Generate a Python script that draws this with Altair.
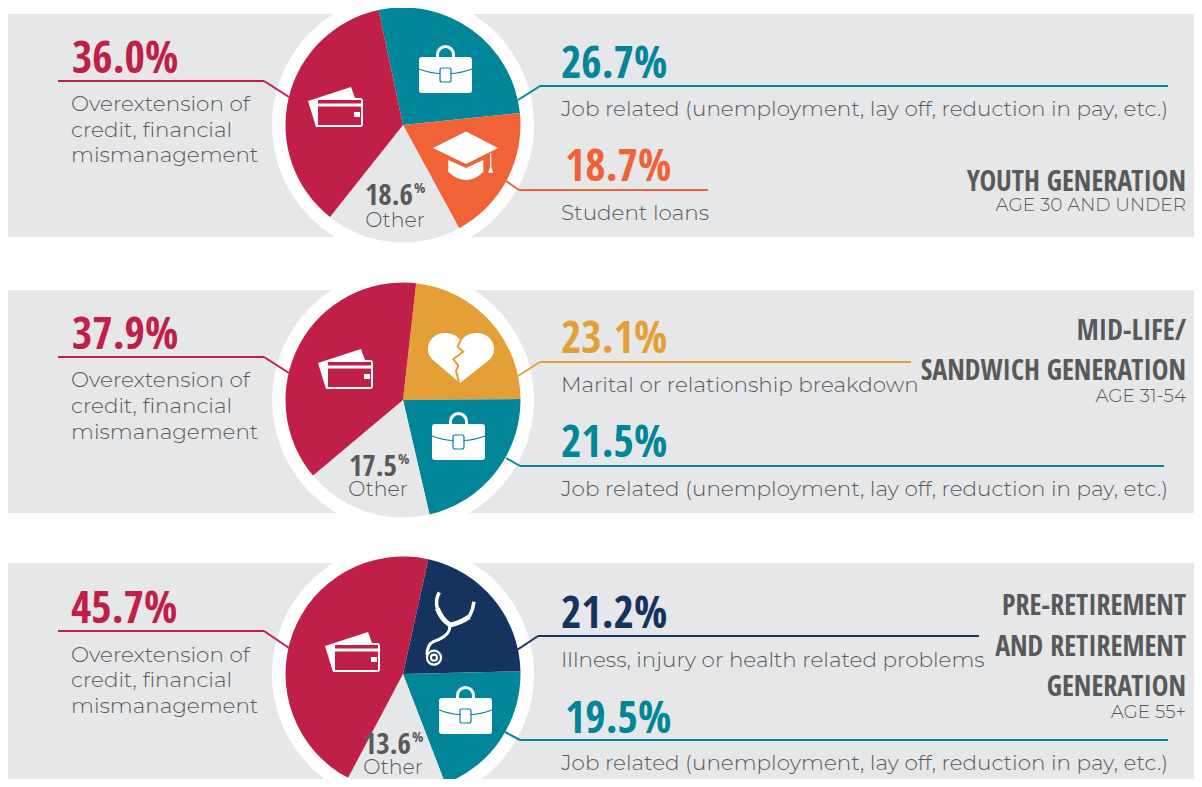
import math
import altair as alt

# ---- chart values -------------------------------------------------------
CATEGORIES = ["credit", "job", "student", "other", "marital", "health"]
CATEGORY_COLORS = ["#c01f48", "#008599", "#f06336", "#e6e7e8", "#e49f37", "#14345f"]

PIE1_CATS = ["job", "student", "other", "credit"]
PIE1_VALUES = [26.7, 18.7, 18.6, 36.0]
PIE2_CATS = ["marital", "job", "other", "credit"]
PIE2_VALUES = [23.1, 21.5, 17.5, 37.9]
PIE3_CATS = ["health", "job", "other", "credit"]
PIE3_VALUES = [21.2, 19.5, 13.6, 45.7]

CREDIT_LINES = ["Overextension of", "credit, financial", "mismanagement"]
JOB_TEXT = "Job related (unemployment, lay off, reduction in pay, etc.)"

TEXT = "#58595b"
PANEL = "#e6e7e8"
BIG = "Open Sans Condensed"
BODY = "Montserrat"
BODY_SIZE = 21.5
W = 1186
H = 771

layers = []
ROW = alt.Data(values=[{"k": 1}])


def panel(y1, y2):
    layers.append(alt.Chart(ROW).mark_rect(color=PANEL).encode(
        x=alt.value(0), x2=alt.value(W), y=alt.value(y1 - 8), y2=alt.value(min(y2 - 8, H))))


def ring(cx, cy):
    d = alt.Data(values=[{"v": 1}])
    layers.append(alt.Chart(d).mark_arc(color="white", outerRadius=131).encode(
        theta=alt.Theta("v:Q", stack=True, scale=alt.Scale(domain=[0, 1], range=[0, 2 * math.pi])),
        x=alt.value(cx - 8), y=alt.value(cy - 8)))


def leader(color, x0, x1, y, x2, y2):
    for a, b, c, d in [(x0, x1, y, y), (x1, x2, y, y2)]:
        layers.append(alt.Chart(ROW).mark_rule(color=color, strokeWidth=2).encode(
            x=alt.value(a - 8), x2=alt.value(b - 8), y=alt.value(c - 8), y2=alt.value(d - 8)))


def pie(cats, values, start_deg, cx, cy, r=117.5):
    rows = [{"cat": c, "value": v, "i": i} for i, (c, v) in enumerate(zip(cats, values))]
    a = math.radians(start_deg)
    return alt.Chart(alt.Data(values=rows)).mark_arc(outerRadius=r).encode(
        theta=alt.Theta("value:Q", stack=True,
                        scale=alt.Scale(domain=[0, 100], range=[a, a + 2 * math.pi])),
        order=alt.Order("i:Q"),
        color=alt.Color("cat:N", scale=alt.Scale(domain=CATEGORIES, range=CATEGORY_COLORS), legend=None),
        x=alt.value(cx - 8), y=alt.value(cy - 8))


def fill_icon(path, x, y, color="white"):
    layers.append(alt.Chart(ROW).mark_point(shape=path, size=4, filled=True, color=color,
                                            opacity=1, strokeWidth=0).encode(
        x=alt.value(x - 8), y=alt.value(y - 8)))


def stroke_icon(path, x, y, color="white", w=2.0):
    layers.append(alt.Chart(ROW).mark_point(shape=path, size=4, filled=False, color=color,
                                            opacity=1, strokeWidth=w).encode(
        x=alt.value(x - 8), y=alt.value(y - 8)))


def text(s, x, y, size, color=TEXT, font=BODY, align="left", weight=300):
    layers.append(alt.Chart(alt.Data(values=[{"t": s}])).mark_text(
        font=font, fontSize=size, color=color, align=align, baseline="alphabetic",
        fontWeight=weight).encode(text="t:N", x=alt.value(x - 8), y=alt.value(y - 8)))


CARD = ("M-28,-6 L15,-20 L19,-9 L-18,-9 L-18,20 L-20,20 Z "
        "M-18,-9 L24,-9 Q27,-9 27,-6 L27,17 Q27,20 24,20 L-18,20 Q-20,20 -20,17 L-20,-6 Q-20,-9 -18,-9 Z "
        "M-18,-7 L-18,-3.5 L25,-3.5 L25,-7 Z "
        "M-18,-0.5 L-18,18 L25,18 L25,-0.5 Z "
        "M18,5 L24,5 L24,10 L18,10 Z")
CASE_BODY = "M-23.5,-18 L23.5,-18 Q26.5,-18 26.5,-15 L26.5,15 Q26.5,18 23.5,18 L-23.5,18 Q-26.5,18 -26.5,15 L-26.5,-15 Q-26.5,-18 -23.5,-18 Z"
CASE_HANDLE = "M-8,-17 L-8,-20.5 A8,8 0 0 1 8,-20.5 L8,-17"
CASE_STRAP = "M-26.5,-6 Q-14,-1.5 -5,-1.5 M5,-1.5 Q14,-1.5 26.5,-6"
CASE_CLASP = "M-3.5,-7 L3.5,-7 Q5.5,-7 5.5,-5 L5.5,5 Q5.5,7 3.5,7 L-3.5,7 Q-5.5,7 -5.5,5 L-5.5,-5 Q-5.5,-7 -3.5,-7 Z"
CAP_TOP = "M-33,0 L-1,-16 Q0,-16.5 1,-16 L32,0 L1,15.5 Q0,16 -1,15.5 Z"
CAP_BASE = "M-17.7,12 L0,20 L17.3,12 L17.3,24 Q0,40 -17.7,24 Z"
CAP_TASSEL = "M24.1,5.3 L25.3,5.3 L25.3,18.7 L27.2,24.7 L22.2,24.7 L24.1,18.7 Z"
HEART = ("M0,-16 C-4,-22 -10,-24 -16,-24 C-26,-24 -33,-17 -33,-8 C-33,-3 -31,0 -28,3 L-1,26 L28,3 "
         "C31,0 33,-3 33,-8 C33,-17 26,-24 16,-24 C10,-24 4,-22 0,-16 Z")
CRACK = "M-0.3,-17 L-3.3,-10.3 L2.3,-5.3 L-7.7,2.3 L-2.7,8.7 L-5,13.7 L-2,25.3"
STETH_YOKE = "M-12.7,-16.7 Q-9,-6 0,0 Q10,-2 19.3,-8.3"
STETH_EARS = "M-10.7,-32.7 Q-15,-25 -12.7,-16.7 M24,-23.3 Q23,-15 19.3,-8.3"
STETH_TUBE = "M0,0 L-0.7,5 Q-3,12 -16.7,16.7 Q-23,20 -23,30"
STETH_RING = ("M-23,32.7 A7,7 0 1 1 -9,32.7 A7,7 0 1 1 -23,32.7 Z "
              "M-19,32.7 A3,3 0 1 1 -13,32.7 A3,3 0 1 1 -19,32.7 Z")


def card(x, y):
    fill_icon(CARD, x, y)


def briefcase(x, y, bg="#008599"):
    stroke_icon(CASE_HANDLE, x, y, "white", 3)
    fill_icon(CASE_BODY, x, y)
    stroke_icon(CASE_STRAP, x, y, bg, 1.2)
    stroke_icon(CASE_CLASP, x, y, bg, 1.2)


# ---- panels, rings, leaders --------------------------------------------
panel(14, 237)
panel(290, 513)
panel(563, 787)
for cy in (125, 400, 674):
    ring(403, cy)

leader("#c01f48", 58, 264, 81, 289, 97)
leader("#008599", 1168, 540, 86, 518, 100)
leader("#f06336", 708, 519, 190, 506, 181)
leader("#c01f48", 58, 264, 357, 289, 373)
leader("#e49f37", 911, 540, 362, 518, 376)
leader("#008599", 1164, 520, 466, 506, 458)
leader("#c01f48", 58, 264, 631, 289, 648)
leader("#14345f", 979, 538, 636, 517, 650)
leader("#008599", 1168, 520, 740, 505, 732)

# ---- pies --------------------------------------------------------------
pies = alt.layer(
    pie(PIE1_CATS, PIE1_VALUES, -12, 403, 125),
    pie(PIE2_CATS, PIE2_VALUES, 6.4, 403, 400),
    pie(PIE3_CATS, PIE3_VALUES, 12.4, 403, 674),
).resolve_scale(theta="independent")
layers.append(pies)

# ---- icons -------------------------------------------------------------
card(336, 107)
card(346, 369)
card(353, 652)
briefcase(445.5, 75)
briefcase(458.5, 442)
briefcase(465.5, 716)
fill_icon(CAP_TOP, 466, 148)
fill_icon(CAP_BASE, 466, 148)
fill_icon(CAP_TASSEL, 466, 148)
fill_icon(HEART, 461, 357)
stroke_icon(CRACK, 461, 357, "#e49f37", 2)
stroke_icon(STETH_YOKE, 450, 625, "white", 5)
stroke_icon(STETH_EARS, 450, 625, "white", 3.5)
stroke_icon(STETH_TUBE, 450, 625, "white", 3)
stroke_icon(STETH_RING, 450, 625, "white", 2.2)

# ---- text --------------------------------------------------------------
NUM = 44
for val, x, y, col in [
    ("36.0%", 72, 73, "#c01f48"), ("26.7%", 561, 78, "#008599"), ("18.7%", 565, 181, "#f06336"),
    ("37.9%", 72, 349, "#c01f48"), ("23.1%", 561, 353, "#e49f37"), ("21.5%", 561, 457, "#008599"),
    ("45.7%", 71, 623, "#c01f48"), ("21.2%", 561, 628, "#14345f"), ("19.5%", 565, 733, "#008599"),
]:
    text(val, x, y, NUM, col, BIG, weight="bold")

for ys in ((111, 137, 162), (387, 413, 439), (662, 687, 713)):
    for line, y in zip(CREDIT_LINES, ys):
        text(line, 71, y, BODY_SIZE)

text(JOB_TEXT, 561, 116, BODY_SIZE)
text("Student loans", 561, 220, BODY_SIZE)
text("Marital or relationship breakdown", 561, 392, BODY_SIZE)
text(JOB_TEXT, 561, 496, BODY_SIZE)
text("Illness, injury or health related problems", 561, 667, BODY_SIZE)
text(JOB_TEXT, 561, 770, BODY_SIZE)

for val, x, y, px, py, ox, oy in [
    ("18.6", 413, 205, 414, 193, 395, 227),
    ("17.5", 397, 476, 398, 464, 378, 496),
    ("13.6", 411, 754, 412, 742, 393, 774),
]:
    text(val, x, y, 29, TEXT, BIG, "right", "bold")
    text("%", px, py, 15, TEXT, BIG, "left", "bold")
    text("Other", ox, oy, 20.5, TEXT, BODY, "center")

for s, y in [("YOUTH GENERATION", 191), ("MID-LIFE/", 340), ("SANDWICH GENERATION", 380),
             ("PRE-RETIREMENT", 615), ("AND RETIREMENT", 656), ("GENERATION", 696)]:
    text(s, 1186, y, 28, TEXT, BIG, "right", "bold")
for s, y in [("AGE 30 AND UNDER", 211), ("AGE 31-54", 402), ("AGE 55+", 718)]:
    text(s, 1186, y, 18.5, TEXT, BODY, "right")

chart = alt.layer(*layers).resolve_scale(theta="independent").properties(
    width=W, height=H, padding=0,
    autosize=alt.AutoSizeParams(type="none"),
    background="white",
).configure_view(stroke=None)

chart.save("out.html", embed_options={"renderer": "svg", "actions": False})
